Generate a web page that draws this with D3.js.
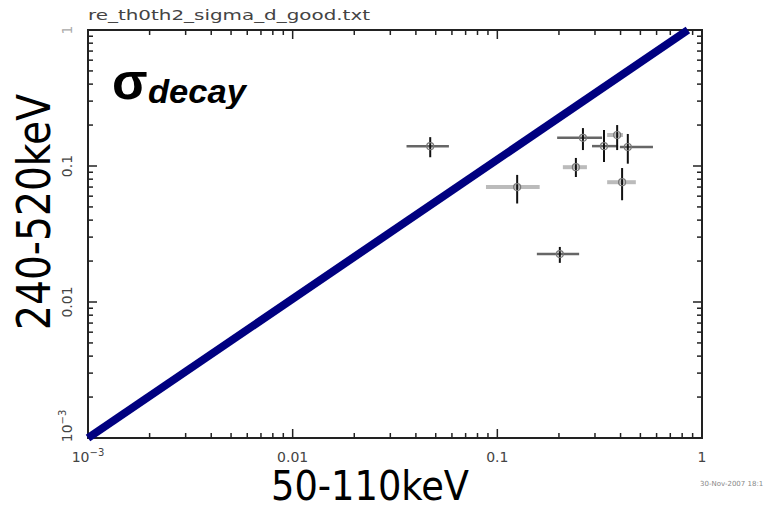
<!DOCTYPE html>
<html>
<head>
<meta charset="utf-8">
<script src="https://cdn.jsdelivr.net/npm/d3@7"></script>
<style>
  body { margin: 0; background: #fff; }
  svg { display: block; }
</style>
</head>
<body>
<div id="chart"></div>
<script>
// points: centre, x range, y range
const xVal = [0.047, 0.125, 0.202, 0.242, 0.262, 0.332, 0.385, 0.434, 0.407];
const xLo  = [0.036, 0.088, 0.156, 0.209, 0.196, 0.290, 0.344, 0.397, 0.344];
const xHi  = [0.058, 0.161, 0.251, 0.274, 0.325, 0.389, 0.411, 0.576, 0.475];
const yVal = [0.140, 0.070, 0.0225, 0.098, 0.161, 0.140, 0.169, 0.138, 0.076];
const yLo  = [0.116, 0.053, 0.0194, 0.083, 0.131, 0.107, 0.131, 0.104, 0.056];
const yHi  = [0.163, 0.086, 0.0254, 0.1146, 0.190, 0.184, 0.200, 0.172, 0.0966];
const lightBar = [false, true, false, true, false, false, true, false, true];

const diagX = [0.001, 0.853];
const diagY = [0.001, 1];

const xTicks = [0.001, 0.01, 0.1, 1];
const yTicks = [0.001, 0.01, 0.1, 1];

const W = 774, H = 509;
const svg = d3.select("#chart").append("svg")
  .attr("width", W).attr("height", H);

const x = d3.scaleLog().domain([1e-3, 1]).range([88, 702]);
const y = d3.scaleLog().domain([1e-3, 1]).range([438, 30]);

// all log ticks (1..9 per decade)
const minor = [];
for (let e = -3; e < 0; e++) for (let m = 1; m < 10; m++) minor.push(m * Math.pow(10, e));
minor.push(1);
const isMajor = v => xTicks.some(t => Math.abs(t - v) / t < 1e-6);

const axes = svg.append("g").attr("stroke", "#222").attr("stroke-width", 1.5);
// frame
axes.append("rect")
  .attr("x", x.range()[0]).attr("y", y.range()[1])
  .attr("width", x.range()[1] - x.range()[0])
  .attr("height", y.range()[0] - y.range()[1])
  .attr("fill", "none").attr("stroke-width", 2);

// ticks pointing inwards on all four sides
minor.forEach(v => {
  const len = isMajor(v) ? 9 : 5;
  axes.append("line").attr("x1", x(v)).attr("x2", x(v))
    .attr("y1", y.range()[0]).attr("y2", y.range()[0] - len);
  axes.append("line").attr("x1", x(v)).attr("x2", x(v))
    .attr("y1", y.range()[1]).attr("y2", y.range()[1] + len);
  axes.append("line").attr("y1", y(v)).attr("y2", y(v))
    .attr("x1", x.range()[0]).attr("x2", x.range()[0] + len);
  axes.append("line").attr("y1", y(v)).attr("y2", y(v))
    .attr("x1", x.range()[1]).attr("x2", x.range()[1] - len);
});

// tick labels
const labelFont = "'DejaVu Sans', sans-serif";
function tickText(sel, v) {
  if (v === 0.001) {
    sel.append("tspan").text("10");
    sel.append("tspan").attr("dy", -6).attr("font-size", 10).text("\u22123");
  } else {
    sel.text(v === 1 ? "1" : String(v));
  }
}
xTicks.forEach(v => {
  const t = svg.append("text")
    .attr("x", x(v)).attr("y", 462)
    .attr("text-anchor", "middle")
    .attr("font-family", labelFont).attr("font-size", 14)
    .attr("fill", "#444");
  tickText(t, v);
});
yTicks.forEach(v => {
  const cy = v === 0.001 ? y(v) - 12 : y(v);
  const t = svg.append("text")
    .attr("transform", `translate(72,${cy}) rotate(-90)`)
    .attr("text-anchor", "middle")
    .attr("font-family", labelFont).attr("font-size", 14)
    .attr("fill", v === 1 ? "#aaa" : "#444");
  tickText(t, v);
});

// diagonal reference line
svg.append("path")
  .datum(d3.zip(diagX, diagY))
  .attr("fill", "none")
  .attr("stroke", "#000080")
  .attr("stroke-width", 8)
  .attr("d", d3.line().x(d => x(d[0])).y(d => y(d[1])));

// error bars
const pts = xVal.map((v, i) => ({
  x: v, y: yVal[i], xl: xLo[i], xh: xHi[i], yl: yLo[i], yh: yHi[i], light: lightBar[i]
}));
const g = svg.append("g");
g.selectAll(".hbar").data(pts).join("line")
  .attr("class", "hbar")
  .attr("x1", d => x(d.xl)).attr("x2", d => x(d.xh))
  .attr("y1", d => y(d.y)).attr("y2", d => y(d.y))
  .attr("stroke", d => d.light ? "#bbb" : "#666")
  .attr("stroke-width", d => d.light ? 4 : 2.5);
g.selectAll(".vbar").data(pts).join("line")
  .attr("class", "vbar")
  .attr("x1", d => x(d.x)).attr("x2", d => x(d.x))
  .attr("y1", d => y(d.yl)).attr("y2", d => y(d.yh))
  .attr("stroke", "#111")
  .attr("stroke-width", 2);
g.selectAll("circle").data(pts).join("circle")
  .attr("cx", d => x(d.x)).attr("cy", d => y(d.y))
  .attr("r", 3.5)
  .attr("fill", "none")
  .attr("stroke", "#777")
  .attr("stroke-width", 1.2);

// file name on top
svg.append("text")
  .attr("x", 88).attr("y", 20)
  .attr("font-family", labelFont).attr("font-size", 14)
  .attr("textLength", 282).attr("lengthAdjust", "spacingAndGlyphs")
  .attr("fill", "#444")
  .text("re_th0th2_sigma_d_good.txt");

// sigma decay label (subscript clipped at its bottom like the original)
svg.append("clipPath").attr("id", "labclip")
  .append("rect").attr("x", 100).attr("y", 50).attr("width", 200).attr("height", 59);
const lab = svg.append("g").attr("clip-path", "url(#labclip)");
lab.append("text")
  .attr("x", 112).attr("y", 99)
  .attr("font-family", "'Liberation Sans', Arial, sans-serif")
  .attr("font-weight", "bold").attr("font-size", 52)
  .attr("fill", "#000")
  .text("\u03c3");
lab.append("text")
  .attr("x", 148).attr("y", 103)
  .attr("font-family", "'Liberation Sans', Arial, sans-serif")
  .attr("font-weight", "bold").attr("font-style", "italic").attr("font-size", 33)
  .attr("textLength", 98).attr("lengthAdjust", "spacingAndGlyphs")
  .attr("fill", "#000")
  .text("decay");

// axis titles
const titleFont = "'Liberation Sans Narrow', 'DejaVu Sans Condensed', sans-serif";
svg.append("text")
  .attr("x", 370).attr("y", 500)
  .attr("text-anchor", "middle")
  .attr("font-family", titleFont)
  .attr("font-size", 40)
  .attr("textLength", 198).attr("lengthAdjust", "spacingAndGlyphs")
  .attr("fill", "#000")
  .text("50-110keV");
svg.append("text")
  .attr("transform", "translate(50,212) rotate(-90)")
  .attr("text-anchor", "middle")
  .attr("font-family", titleFont)
  .attr("font-size", 46)
  .attr("textLength", 236).attr("lengthAdjust", "spacingAndGlyphs")
  .attr("fill", "#000")
  .text("240-520keV");

// date stamp
svg.append("text")
  .attr("x", 700).attr("y", 486)
  .attr("font-family", labelFont).attr("font-size", 7)
  .attr("fill", "#888")
  .text("30-Nov-2007 18:1");
</script>
</body>
</html>
